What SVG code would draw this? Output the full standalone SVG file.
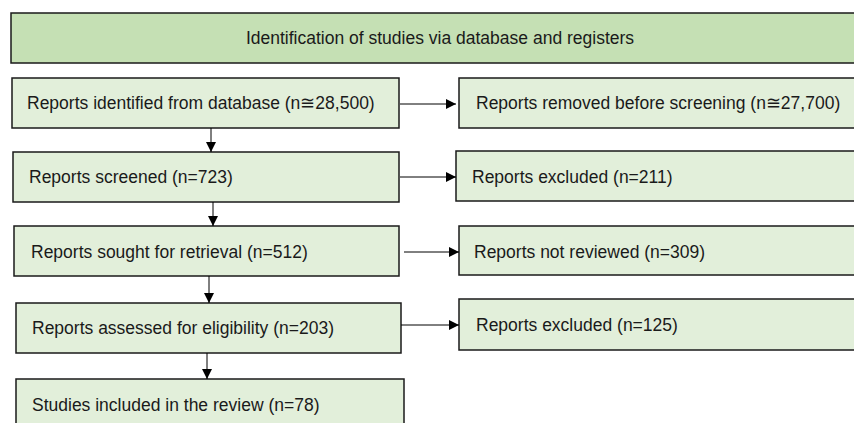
<svg xmlns="http://www.w3.org/2000/svg" width="854" height="423" viewBox="0 0 854 423">
<style>
.box{fill:#e2efda;stroke:#1a1a1a;stroke-width:1.5}
.hdr{fill:#c5e0b4;stroke:#1a1a1a;stroke-width:1.5}
.t{font-family:"Liberation Sans",Arial,sans-serif;font-size:17.5px;fill:#1a1a1a;dominant-baseline:central}
.c{stroke:#000;stroke-width:1;fill:none}
</style>
<defs>
<marker id="a" viewBox="0 0 10 10" refX="10" refY="5" markerWidth="10" markerHeight="10" markerUnits="userSpaceOnUse" orient="auto">
<path d="M0,0 L10,5 L0,10 Z" fill="#000"/>
</marker>
</defs>
<rect width="854" height="423" fill="#fff"/>
<g id="header"><rect class="hdr" x="11" y="13" width="850" height="50"/><text class="t" x="440" y="38" text-anchor="middle">Identification of studies via database and registers</text></g>
<g id="n1"><rect class="box" x="12" y="78" width="387" height="50"/><text class="t" x="27" y="103">Reports identified from database (n≅28,500)</text></g>
<g id="n1r"><rect class="box" x="459" y="78" width="400" height="50"/><text class="t" x="476" y="103">Reports removed before screening (n≅27,700)</text></g>
<g id="n2"><rect class="box" x="13" y="152" width="386" height="50"/><text class="t" x="29" y="177">Reports screened (n=723)</text></g>
<g id="n2r"><rect class="box" x="456" y="151" width="403" height="50"/><text class="t" x="472" y="177">Reports excluded (n=211)</text></g>
<g id="n3"><rect class="box" x="14" y="226" width="385" height="50"/><text class="t" x="31" y="252">Reports sought for retrieval (n=512)</text></g>
<g id="n3r"><rect class="box" x="459" y="226" width="400" height="49"/><text class="t" x="474" y="252">Reports not reviewed (n=309)</text></g>
<g id="n4"><rect class="box" x="16" y="303" width="385" height="50"/><text class="t" x="32" y="328">Reports assessed for eligibility (n=203)</text></g>
<g id="n4r"><rect class="box" x="459" y="299" width="400" height="51"/><text class="t" x="476" y="325">Reports excluded (n=125)</text></g>
<g id="n5"><rect class="box" x="16" y="379" width="388" height="60"/><text class="t" x="32" y="405">Studies included in the review (n=78)</text></g>
<g id="connectors">
<line class="c" x1="400" y1="104" x2="456" y2="104" marker-end="url(#a)"/>
<path class="c" d="M211,128 V152" marker-end="url(#a)"/>
<line class="c" x1="400" y1="177" x2="456" y2="177" marker-end="url(#a)"/>
<path class="c" d="M213,202 V226" marker-end="url(#a)"/>
<line class="c" x1="404" y1="252" x2="459" y2="252" marker-end="url(#a)"/>
<path class="c" d="M209,276 V303" marker-end="url(#a)"/>
<line class="c" x1="401" y1="325" x2="459" y2="325" marker-end="url(#a)"/>
<path class="c" d="M207,353 V379" marker-end="url(#a)"/>
</g>
</svg>
